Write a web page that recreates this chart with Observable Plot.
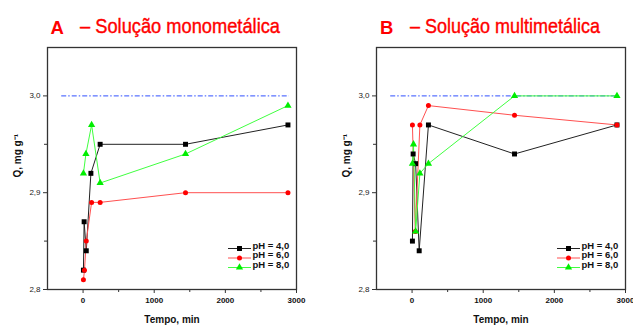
<!DOCTYPE html>
<html><head><meta charset="utf-8">
<script src="https://cdn.jsdelivr.net/npm/d3@7"></script>
<script src="https://cdn.jsdelivr.net/npm/@observablehq/plot@0.6"></script>
<style>
body{margin:0;background:#fff;}
#wrap{position:relative;width:633px;height:327px;overflow:hidden;background:#fff;font-family:"Liberation Sans",Arial,sans-serif;}
#wrap > svg{position:absolute;top:0;}
</style></head><body><div id="wrap"></div>
<script>
// ---- data ----
const seriesLabels = ["pH = 4,0", "pH = 6,0", "pH = 8,0"];
const panelLetters = ["A", "B"];
const panelTitles = ["– Solução monometálica", "– Solução multimetálica"];
const xLabel = "Tempo, min";
const yLabel = "Q, mg g⁻¹";
const xTicks = [0, 1000, 2000, 3000];
const xMinorTicks = [500, 1500, 2500];
const yTicks = [2.8, 2.9, 3.0];
const yMinorTicks = [2.85, 2.95];
const refLine = [{q: 3.0, from: -300, to: 2900}];

// Panel A – monometallic
const tA4 = [5, 15, 45, 110, 240, 1440, 2880];
const qA4 = [2.82, 2.87, 2.84, 2.92, 2.95, 2.95, 2.97];
const tA6 = [5, 20, 45, 120, 240, 1440, 2880];
const qA6 = [2.81, 2.82, 2.85, 2.89, 2.89, 2.90, 2.90];
const tA8 = [5, 40, 120, 240, 1440, 2880];
const qA8 = [2.92, 2.94, 2.97, 2.91, 2.94, 2.99];

// Panel B – multimetallic
const tB4 = [5, 15, 50, 100, 230, 1440, 2880];
const qB4 = [2.85, 2.94, 2.93, 2.84, 2.97, 2.94, 2.97];
const tB6 = [5, 45, 110, 230, 1440, 2880];
const qB6 = [2.97, 2.86, 2.97, 2.99, 2.98, 2.97];
const tB8 = [5, 20, 50, 110, 230, 1440, 2880];
const qB8 = [2.93, 2.95, 2.86, 2.92, 2.93, 3.00, 3.00];

const panelsData = [
  [[tA4, qA4], [tA6, qA6], [tA8, qA8]],
  [[tB4, qB4], [tB6, qB6], [tB8, qB8]]
];

// ---- styles ----
const lineColors = ["#222222", "#ff5050", "#40ff40"];
const markColors = ["#000000", "#ff0000", "#00ee00"];
const symbols = ["square", "circle", "triangle"];
const symbolR = [2.8, 2.5, 2.7];
const hline = {draw(ctx) { ctx.moveTo(-11.5, 0); ctx.lineTo(11.5, 0); }};
const fmtY = d => d3.format(".1f")(d).replace(".", ",");

const layout = [
  {left: 0, width: 316, marginRight: 20},
  {left: 329, width: 304, marginRight: 8}
];

const wrap = document.getElementById("wrap");

panelsData.forEach((series, p) => {
  const marks = [];
  marks.push(Plot.ruleY(refLine, {y: "q", x1: "from", x2: "to", stroke: "#3050ff", strokeWidth: 1, strokeDasharray: "5,2,1.5,2"}));
  series.forEach(([ts, qs], k) => {
    const pts = ts.map((t, i) => ({t, q: qs[i]}));
    marks.push(Plot.line(pts, {x: "t", y: "q", stroke: lineColors[k], strokeWidth: 1}));
  });
  series.forEach(([ts, qs], k) => {
    const pts = ts.map((t, i) => ({t, q: qs[i]}));
    marks.push(Plot.dot(pts, {x: "t", y: "q", symbol: symbols[k], r: symbolR[k], fill: markColors[k], stroke: "none"}));
  });
  // legend
  seriesLabels.forEach((lab, k) => {
    const dy = -41 + k * 9.5;
    marks.push(Plot.dot([lab], {frameAnchor: "bottom-right", dx: -57, dy, symbol: hline, r: 3, fill: "none", stroke: lineColors[k], strokeWidth: 1}));
    marks.push(Plot.dot([lab], {frameAnchor: "bottom-right", dx: -57, dy, symbol: symbols[k], r: symbolR[k], fill: markColors[k], stroke: "none"}));
    marks.push(Plot.text([lab], {frameAnchor: "bottom-right", dx: -44, dy, text: d => d, textAnchor: "start", fontWeight: "bold", fontSize: 9.5, fill: "#111"}));
  });
  // axes
  marks.push(Plot.axisX({ticks: xTicks, tickSize: 4, tickPadding: 4, tickFormat: d => String(d), fontSize: 8, fontWeight: "bold", stroke: "#333", fill: "#111", label: null}));
  marks.push(Plot.axisX({ticks: xMinorTicks, tickSize: 3, tickFormat: () => "", stroke: "#333", label: null}));
  marks.push(Plot.axisY({ticks: yTicks, tickSize: 4, tickPadding: 3, tickFormat: fmtY, fontSize: 8, stroke: "#333", fill: "#222", label: null}));
  marks.push(Plot.axisY({ticks: yMinorTicks, tickSize: 3, tickFormat: () => "", stroke: "#333", label: null}));
  marks.push(Plot.text([xLabel], {frameAnchor: "bottom", dy: 33, text: d => d, fontWeight: "bold", fontSize: 10, fill: "#111"}));
  marks.push(Plot.text([yLabel], {frameAnchor: "left", dx: -30, dy: 9, rotate: -90, text: d => d, fontWeight: "bold", fontSize: 10, fill: "#111"}));
  marks.push(Plot.frame({stroke: "#333", strokeWidth: 1.3}));

  const svg = Plot.plot({
    width: layout[p].width,
    height: 327,
    marginLeft: 47,
    marginRight: layout[p].marginRight,
    marginTop: 47,
    marginBottom: 38,
    x: {domain: [-500, 3000]},
    y: {domain: [2.8, 3.05]},
    style: {fontFamily: "'Liberation Sans', Arial, sans-serif", background: "transparent", overflow: "visible"},
    marks
  });
  svg.style.left = layout[p].left + "px";
  wrap.appendChild(svg);
});

// titles (real text)
const ns = "http://www.w3.org/2000/svg";
const tsvg = document.createElementNS(ns, "svg");
tsvg.setAttribute("width", 633); tsvg.setAttribute("height", 60);
tsvg.style.left = "0px"; tsvg.style.pointerEvents = "none";
const titlePos = [
  {lx: 50.5, tx: 80, tl: 200},
  {lx: 380, tx: 410, tl: 190}
];
panelLetters.forEach((L, p) => {
  const a = document.createElementNS(ns, "text");
  a.setAttribute("x", titlePos[p].lx); a.setAttribute("y", 34);
  a.setAttribute("font-size", 18.5); a.setAttribute("font-weight", "bold");
  a.setAttribute("fill", "#f00"); a.setAttribute("font-family", "'Liberation Sans', Arial, sans-serif");
  a.textContent = L; tsvg.appendChild(a);
  const t = document.createElementNS(ns, "text");
  t.setAttribute("x", titlePos[p].tx); t.setAttribute("y", 32.5);
  t.setAttribute("font-size", 21); t.setAttribute("fill", "#f00");
  t.setAttribute("stroke", "#f00"); t.setAttribute("stroke-width", 0.4);
  t.setAttribute("font-family", "'Liberation Sans', Arial, sans-serif");
  t.setAttribute("textLength", titlePos[p].tl); t.setAttribute("lengthAdjust", "spacingAndGlyphs");
  t.textContent = panelTitles[p]; tsvg.appendChild(t);
});
wrap.appendChild(tsvg);
</script></body></html>
